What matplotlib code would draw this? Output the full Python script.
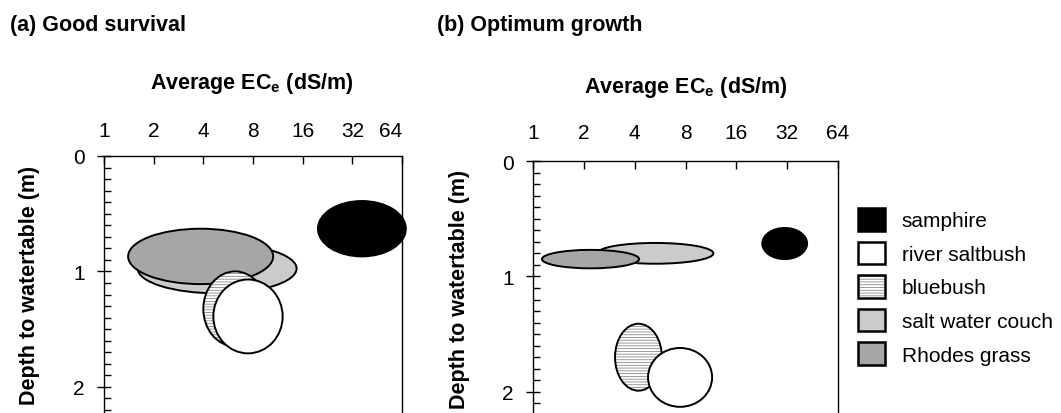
import numpy as np
import matplotlib
matplotlib.use('Agg')
import matplotlib.pyplot as plt
from matplotlib.patches import Ellipse, Patch
from matplotlib.legend_handler import HandlerTuple
from matplotlib.ticker import MultipleLocator

plt.rcParams['font.family'] = ['Liberation Sans', 'DejaVu Sans']
plt.rcParams['hatch.linewidth'] = 0.6

# species order as in the legend
species = ['samphire', 'river saltbush', 'bluebush', 'salt water couch', 'Rhodes grass']

# (a) good survival: EC_e range (dS/m) and depth range (m) of each ellipse
ec_lo_a = [19.8, 4.6, 4.0, 1.6, 1.4]
ec_hi_a = [67.5, 12.1, 9.7, 14.7, 10.6]
dep_lo_a = [0.39, 1.07, 1.00, 0.76, 0.63]
dep_hi_a = [0.87, 1.71, 1.65, 1.19, 1.11]

# (b) optimum growth
ec_lo_b = [22.8, 4.8, 3.06, 2.4, 1.13]
ec_hi_b = [42.0, 11.5, 5.8, 11.7, 4.25]
dep_lo_b = [0.58, 1.62, 1.41, 0.71, 0.77]
dep_hi_b = [0.85, 2.13, 1.99, 0.89, 0.93]

xtick_vals = [1, 2, 4, 8, 16, 32, 64]
ytick_vals = [0, 1, 2]

# styles per species
face = ['black', 'white', 'white', '#cbcbcb', '#a6a6a6']
zord = [5, 4, 3, 1, 2]

W, H = 1061, 414
fig = plt.figure(figsize=(W / 100, H / 100), dpi=100)


def rect(l, t, w, h):
    return [l / W, 1 - (t + h) / H, w / W, h / H]


def draw_panel(ax, lo, hi, dlo, dhi, xpad):
    for i in range(len(species)):
        x0, x1 = np.log2(lo[i]), np.log2(hi[i])
        cx, cy = (x0 + x1) / 2, (dlo[i] + dhi[i]) / 2
        w, h = x1 - x0, dhi[i] - dlo[i]
        if species[i] == 'bluebush':
            ax.add_patch(Ellipse((cx, cy), w, h, facecolor='white', edgecolor='#8a8a8a',
                                 hatch='------', lw=0, zorder=zord[i], clip_on=False))
            ax.add_patch(Ellipse((cx, cy), w, h, facecolor='none', edgecolor='black',
                                 lw=1.4, zorder=zord[i], clip_on=False))
        else:
            ax.add_patch(Ellipse((cx, cy), w, h, facecolor=face[i], edgecolor='black',
                                 lw=1.4, zorder=zord[i], clip_on=False))
    ax.set_xlim(0, 6)
    ax.set_ylim(2.4, 0)
    ax.set_xticks(np.log2(xtick_vals))
    ax.set_xticklabels([str(v) for v in xtick_vals])
    ax.set_yticks(ytick_vals)
    ax.set_yticklabels([str(v) for v in ytick_vals])
    ax.yaxis.set_minor_locator(MultipleLocator(0.1))
    ax.xaxis.set_ticks_position('top')
    ax.tick_params(axis='x', direction='in', length=6, width=1, labelsize=15,
                   pad=xpad, labeltop=True, labelbottom=False)
    ax.tick_params(axis='y', which='major', direction='inout', length=10, width=1,
                   labelsize=15, pad=9, right=False)
    ax.tick_params(axis='y', which='minor', direction='in', length=5, width=1, right=False)
    for s in ax.spines.values():
        s.set_linewidth(1.0)


ax_a = fig.add_axes(rect(104, 157, 298, 277))
draw_panel(ax_a, ec_lo_a, ec_hi_a, dep_lo_a, dep_hi_a, 11.5)
ax_a.get_xticklabels()[-1].set_ha('right')

ax_b = fig.add_axes(rect(533, 162, 305, 277))
draw_panel(ax_b, ec_lo_b, ec_hi_b, dep_lo_b, dep_hi_b, 13.5)

# titles and axis labels
bold = dict(fontsize=15.5, fontweight='bold')
fig.text(10 / W, 1 - 25 / H, '(a) Good survival', va='center', ha='left', **bold)
fig.text(437 / W, 1 - 25 / H, '(b) Optimum growth', va='center', ha='left', **bold)
fig.text(252 / W, 1 - 84 / H, r'Average EC$_\mathregular{e}$ (dS/m)', va='center', ha='center', **bold)
fig.text(686 / W, 1 - 88 / H, r'Average EC$_\mathregular{e}$ (dS/m)', va='center', ha='center', **bold)
fig.text(30 / W, 1 - 285 / H, 'Depth to watertable (m)', rotation=90, va='center', ha='center', **bold)
fig.text(460 / W, 1 - 289 / H, 'Depth to watertable (m)', rotation=90, va='center', ha='center', **bold)

# legend
handles = []
for i, name in enumerate(species):
    if name == 'bluebush':
        handles.append((Patch(facecolor='white', edgecolor='#8a8a8a', hatch='------', lw=0),
                        Patch(facecolor='none', edgecolor='black', lw=1.8)))
    else:
        handles.append(Patch(facecolor=face[i], edgecolor='black', lw=1.8))
fig.legend(handles, species, loc='upper left', bbox_to_anchor=(858 / W, 1 - 209 / H),
           frameon=False, fontsize=15, handlelength=1.3, handleheight=1.3,
           labelspacing=0.52, handletextpad=0.8, borderpad=0, borderaxespad=0,
           handler_map={tuple: HandlerTuple(ndivide=1)})

fig.savefig('out.png', dpi=100)
